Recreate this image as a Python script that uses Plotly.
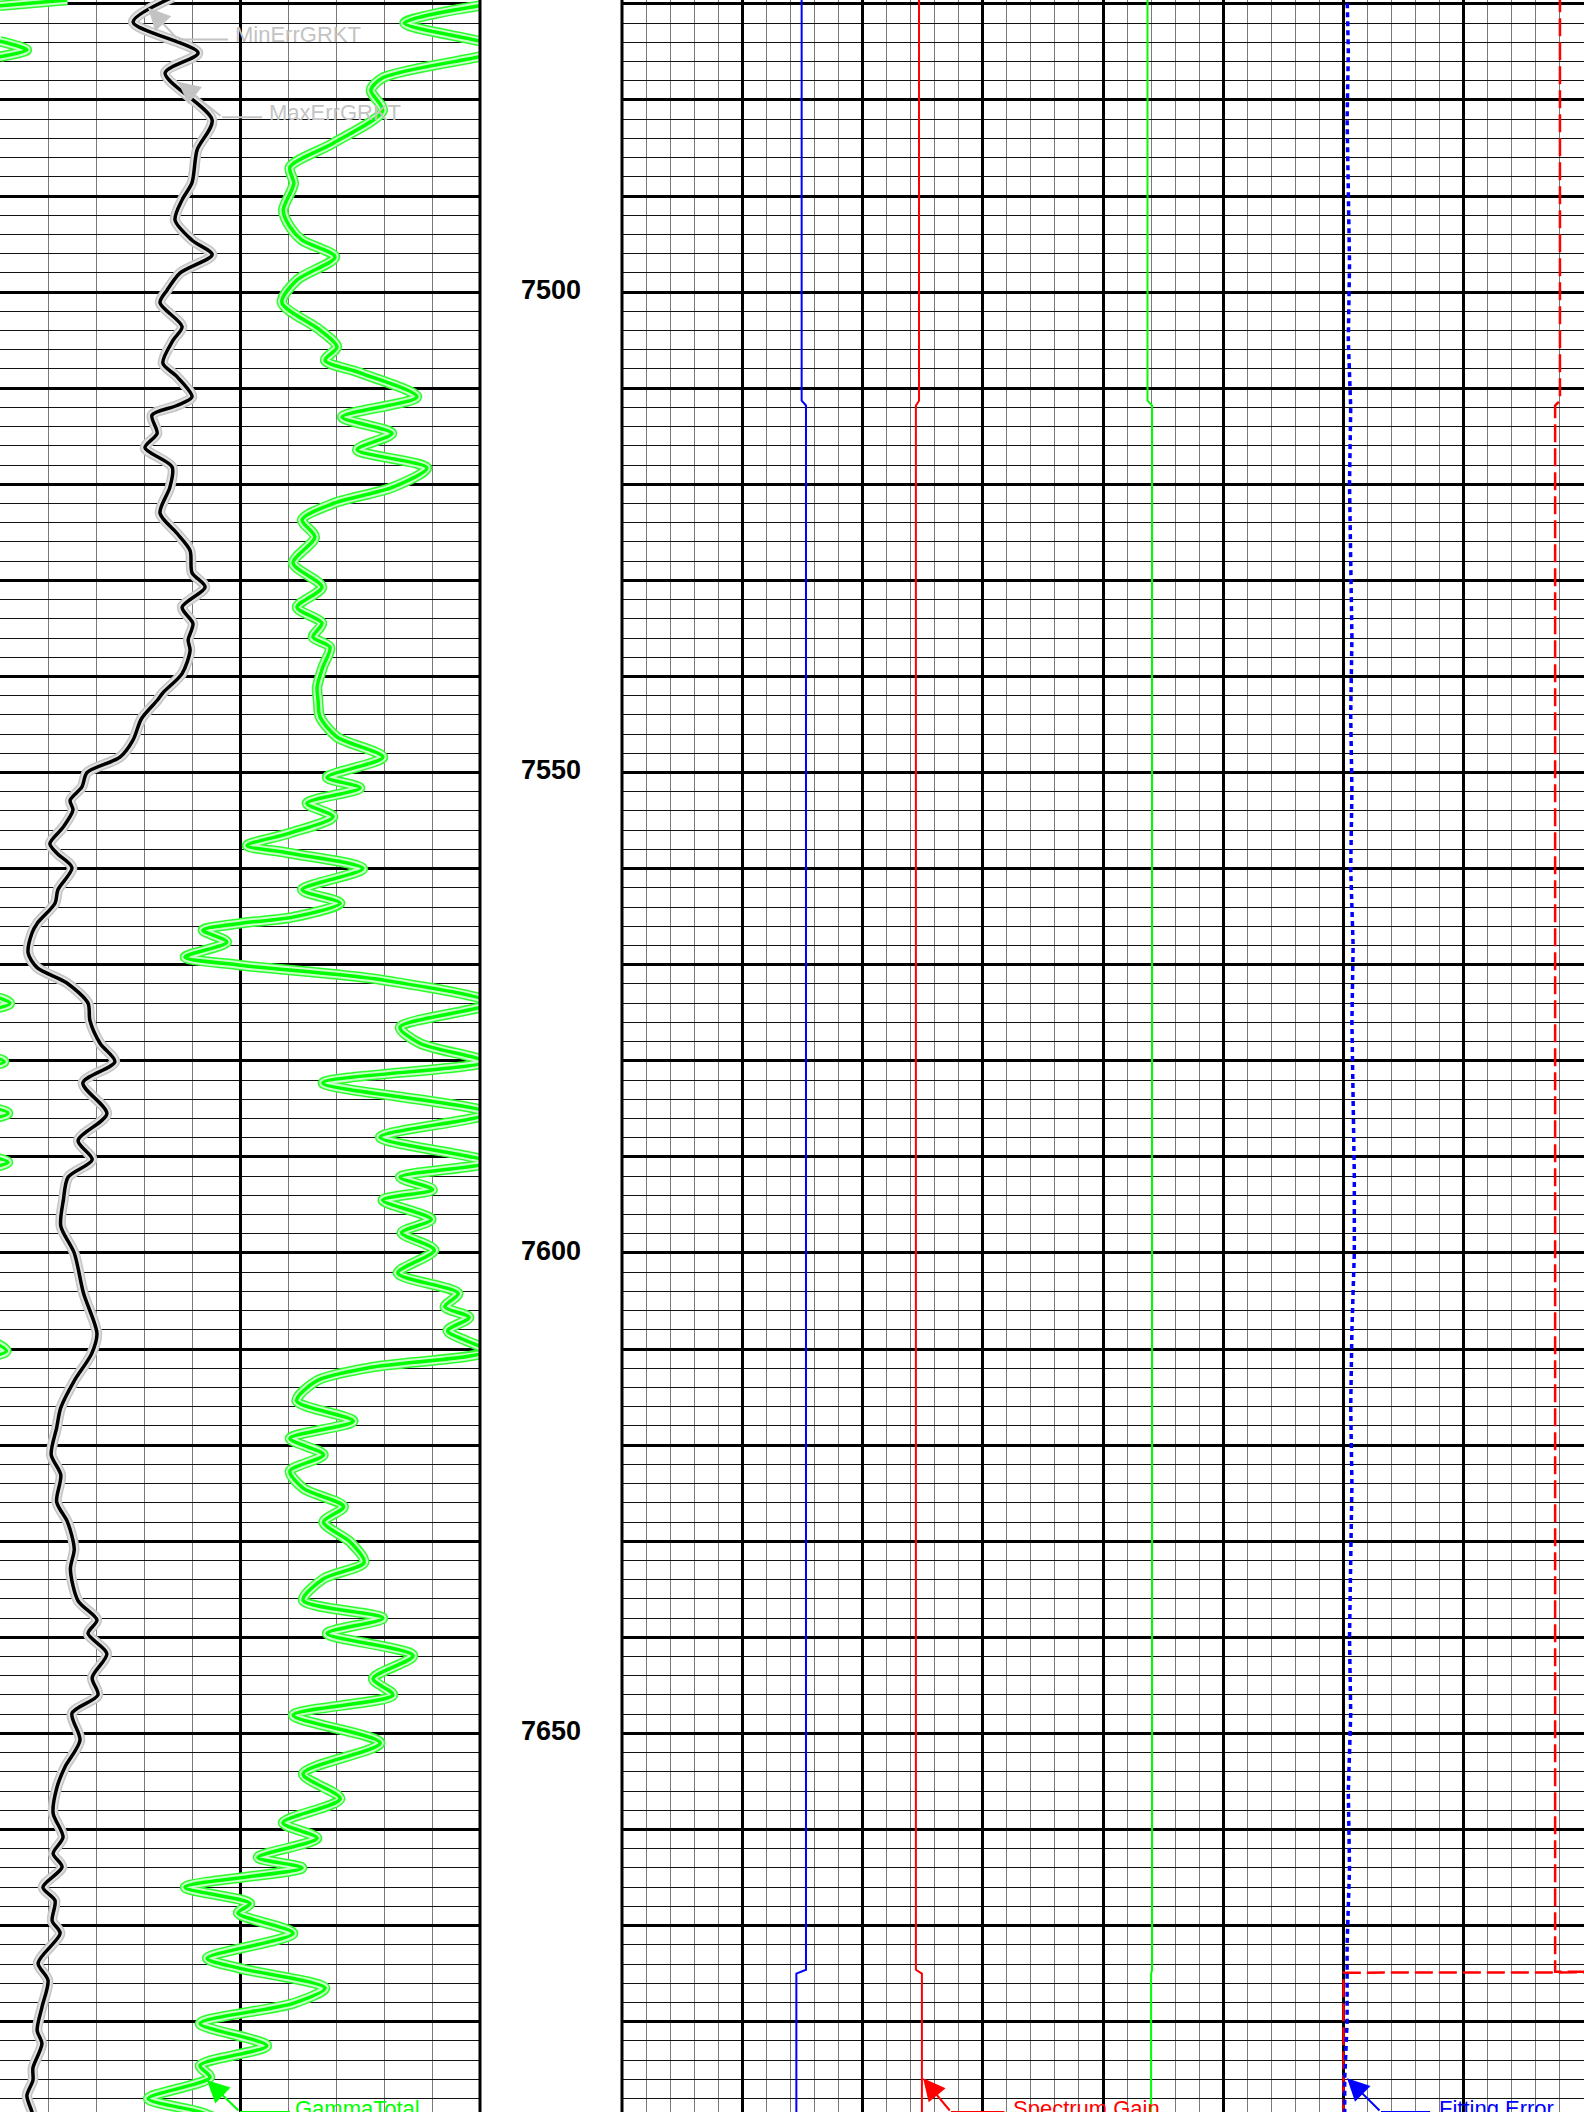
import plotly.graph_objects as go

W, H = 1584, 2112
DEPTH_RANGE = [7689.4, 7469.6]
GR_RANGE = [0, 150]
RT_RANGE = [0, 40]
FONT = "Liberation Sans, Arial, sans-serif"

# ---------------- left track: GRKT (black) ----------------
grkt_depth = [7469.3, 7471.9, 7475.1, 7477.2, 7482.1, 7485.2, 7488.6, 7490.4, 7492.5, 7494.6,
              7496.1, 7498.0, 7499.8, 7501.1, 7503.6, 7505.0, 7507.4, 7508.8, 7510.9, 7511.8,
              7512.8, 7514.7, 7516.2, 7518.2, 7520.3, 7523.0, 7525.1, 7526.9, 7529.2, 7530.7,
              7532.8, 7534.5, 7536.2, 7537.3, 7539.7, 7541.7, 7542.5, 7544.4, 7546.6, 7548.4,
              7550.0, 7551.5, 7552.9, 7553.9, 7555.7, 7557.4, 7558.4, 7559.9, 7562.2, 7563.6,
              7565.7, 7566.7, 7568.8, 7570.3, 7571.9, 7574.0, 7575.8, 7578.2, 7580.1, 7582.3,
              7585.5, 7588.3, 7590.3, 7592.1, 7594.5, 7597.2, 7600.0, 7604.2, 7608.4, 7610.5,
              7613.3, 7616.1, 7618.2, 7621.0, 7623.1, 7625.9, 7628.0, 7630.8, 7632.9, 7636.2,
              7638.2, 7639.6, 7641.7, 7644.2, 7646.0, 7647.9, 7650.7, 7653.5, 7655.6, 7658.3,
              7660.8, 7662.5, 7663.9, 7666.0, 7667.4, 7669.5, 7670.8, 7673.9, 7675.7, 7678.5,
              7680.9, 7682.3, 7684.8, 7686.1, 7687.7, 7689.4, 7690.2]
grkt_value = [54.0, 41.6, 61.9, 51.6, 66.3, 61.6, 60.0, 56.9, 54.7, 60.0,
              66.3, 56.3, 52.2, 50.0, 56.9, 54.1, 50.9, 55.3, 60.0, 55.3,
              47.5, 49.1, 45.3, 53.8, 53.1, 50.0, 55.3, 59.4, 60.0, 64.1,
              56.9, 60.3, 58.8, 59.4, 56.9, 50.9, 49.1, 44.2, 41.6, 37.5,
              27.2, 25.6, 21.9, 22.8, 19.7, 15.6, 17.8, 22.5, 18.1, 17.2,
              11.6, 10.0, 8.8, 11.6, 20.9, 27.5, 28.1, 31.3, 35.9, 25.9,
              33.4, 24.4, 28.8, 21.3, 19.8, 19.0, 23.2, 26.1, 30.3, 28.6,
              23.2, 19.0, 17.7, 16.0, 19.0, 17.7, 21.1, 23.2, 22.0, 24.4,
              30.3, 27.5, 33.4, 28.8, 30.6, 22.5, 25.0, 20.3, 17.8, 16.6,
              19.7, 16.6, 19.4, 13.4, 17.2, 16.3, 18.8, 11.9, 15.0, 13.1,
              11.6, 13.1, 10.3, 10.3, 8.4, 10.0, 10.5]

# ---------------- left track: GammaTotal (green) ----------------
gamma_depth = [7469.6, 7470.2, 7472.0, 7473.9, 7474.8, 7475.5, 7477.7, 7479.0, 7481.1, 7484.5,
               7487.0, 7488.7, 7491.5, 7493.2, 7494.6, 7496.35, 7498.75, 7501.1, 7503.95, 7505.7,
               7507.1, 7508.4, 7510.9, 7513.0, 7514.7, 7516.4, 7518.3, 7520.3, 7522.0, 7523.7,
               7525.5, 7528.2, 7530.7, 7532.8, 7534.45, 7535.9, 7536.95, 7539.0, 7541.1, 7542.5,
               7544.2, 7546.3, 7548.4, 7550.5, 7551.6, 7553.2, 7554.6, 7556.3, 7557.6, 7558.4,
               7560.0, 7562.2, 7563.6, 7565.05, 7565.7, 7566.4, 7567.65, 7569.2, 7570.05, 7571.6,
               7574.0, 7576.5, 7578.2, 7580.1, 7582.3, 7585.45, 7587.95, 7590.55, 7592.1, 7593.4,
               7594.5, 7596.5, 7597.9, 7599.7, 7602.1, 7604.2, 7605.6, 7606.7, 7608.1, 7610.2,
               7611.9, 7613.3, 7615.4, 7617.5, 7619.3, 7621.0, 7622.7, 7624.5, 7626.4, 7628.0,
               7630.1, 7632.2, 7633.9, 7636.15, 7638.0, 7639.6, 7641.9, 7644.3, 7646.0, 7648.1,
               7651.0, 7654.2, 7656.8, 7659.3, 7660.9, 7662.9, 7664.0, 7666.0, 7667.7, 7668.7,
               7670.8, 7673.4, 7674.45, 7676.5, 7678.1, 7680.2, 7682.5, 7684.55, 7685.8, 7688.0,
               7689.4, 7690.4]
gamma_value = [171.0, 150.0, 126.4, 150.0, 158.4, 150.0, 119.6, 115.9, 119.6, 104.1,
               90.6, 91.8, 88.5, 90.6, 94.4, 104.7, 92.8, 88.1, 100.0, 105.3,
               101.6, 112.5, 130.3, 106.9, 122.5, 111.6, 133.4, 122.8, 104.1, 94.4,
               98.4, 91.6, 100.6, 92.8, 100.6, 97.8, 103.1, 100.9, 99.1, 99.4,
               100.0, 105.3, 119.7, 102.2, 112.5, 95.9, 104.1, 90.6, 77.2, 90.6,
               113.4, 94.4, 106.3, 91.6, 75.0, 63.4, 70.9, 57.8, 75.0, 119.7,
               153.1, 125.0, 131.3, 151.3, 100.9, 152.5, 118.8, 152.5, 125.0, 135.2,
               119.6, 134.8, 125.5, 135.7, 124.3, 143.2, 139.0, 146.6, 139.9, 152.0,
               115.9, 99.0, 92.7, 110.4, 90.6, 101.1, 90.6, 94.8, 107.4, 101.1,
               109.5, 113.8, 101.1, 94.7, 119.7, 102.2, 129.1, 116.6, 122.8, 91.6,
               118.8, 94.7, 106.3, 88.4, 99.1, 80.6, 94.4, 57.8, 78.1, 74.4,
               91.6, 64.7, 75.0, 101.6, 91.6, 62.5, 83.4, 62.5, 65.6, 46.3,
               62.5, 70.0]

# ---------------- right track ----------------
step_depth = [7469.0, 7511.3, 7511.8, 7674.6, 7675.0, 7690.0]
blue_value = [7.47, 7.47, 7.65, 7.65, 7.25, 7.25]
gain_value = [12.35, 12.35, 12.22, 12.22, 12.47, 12.47]
green_value = [21.85, 21.85, 22.04, 22.04, 22.0, 22.0]

red_dash_depth = [7469.0, 7511.3, 7511.8, 7674.8, 7674.85, 7674.9, 7690.0]
red_dash_value = [39.0, 39.0, 38.8, 38.8, 45.0, 30.0, 30.0]

fe_depth = [7469.0, 7475, 7482, 7490, 7497, 7505, 7512, 7520, 7528, 7536,
            7544, 7552, 7560, 7568, 7576, 7584, 7592, 7600, 7608, 7616,
            7624, 7632, 7640, 7648, 7656, 7664, 7672, 7680, 7686, 7690]
fe_value = [30.15, 30.2, 30.15, 30.2, 30.25, 30.2, 30.3, 30.25, 30.3, 30.35,
            30.3, 30.35, 30.3, 30.4, 30.35, 30.4, 30.45, 30.45, 30.35, 30.3,
            30.35, 30.3, 30.25, 30.3, 30.2, 30.25, 30.15, 30.15, 30.05, 30.05]

depth_labels = [7500, 7550, 7600, 7650]

L_END = 480 / W
R_START = 622 / W

fig = go.Figure()


def wrapped(vals, hi, span):
    n = len(vals)
    out = []
    for i, v in enumerate(vals):
        near = v > hi or (i > 0 and vals[i - 1] > hi) or (i < n - 1 and vals[i + 1] > hi)
        out.append(v - span if near else None)
    return out


def add_halo(x, y, name, outer, inner, core, xa="x", ya="y"):
    fig.add_trace(go.Scatter(x=x, y=y, mode="lines", name=name + " max", xaxis=xa, yaxis=ya,
                             line=dict(color=outer, width=10.5, shape="spline", smoothing=0.8),
                             hoverinfo="skip", connectgaps=False))
    fig.add_trace(go.Scatter(x=x, y=y, mode="lines", name=name + " min", xaxis=xa, yaxis=ya,
                             line=dict(color=inner, width=7.5, shape="spline", smoothing=0.8),
                             hoverinfo="skip", connectgaps=False))
    fig.add_trace(go.Scatter(x=x, y=y, mode="lines", name=name, xaxis=xa, yaxis=ya,
                             line=dict(color=core, width=3.5, shape="spline", smoothing=0.8),
                             connectgaps=False))


gamma_wrap = wrapped(gamma_value, GR_RANGE[1], GR_RANGE[1] - GR_RANGE[0])
add_halo(gamma_value, gamma_depth, "GammaTotal", "#2bff2b", "#c8ffc8", "#00ff00")
add_halo(gamma_wrap, gamma_depth, "GammaTotal wrap", "#2bff2b", "#c8ffc8", "#00ff00")
add_halo(grkt_value, grkt_depth, "GRKT", "#c4c4c4", "#e2e2e2", "#000000")

# right track curves
fig.add_trace(go.Scatter(x=blue_value, y=step_depth, mode="lines", xaxis="x3", yaxis="y3",
                         line=dict(color="#0000ff", width=2)))
fig.add_trace(go.Scatter(x=gain_value, y=step_depth, mode="lines", xaxis="x3", yaxis="y3",
                         name="Spectrum Gain", line=dict(color="#ff0000", width=2)))
fig.add_trace(go.Scatter(x=green_value, y=step_depth, mode="lines", xaxis="x3", yaxis="y3",
                         line=dict(color="#00ff00", width=2)))
fig.add_trace(go.Scatter(x=red_dash_value, y=red_dash_depth, mode="lines", xaxis="x3", yaxis="y3",
                         line=dict(color="#ff0000", width=2.5, dash="18px,6px")))
fig.add_trace(go.Scatter(x=fe_value, y=fe_depth, mode="lines", xaxis="x3", yaxis="y3",
                         name="Fitting Error", line=dict(color="#0000ff", width=3.5, dash="5px,4px")))

# depth labels
fig.add_trace(go.Scatter(x=[0.5] * len(depth_labels), y=depth_labels, mode="text",
                         text=[str(d) for d in depth_labels], xaxis="x2", yaxis="y2",
                         textposition="middle center",
                         textfont=dict(family=FONT, size=27, color="black", weight="bold")))

yax = dict(range=DEPTH_RANGE, domain=[0, 1], showgrid=True, dtick=10, tick0=0,
           gridcolor="black", gridwidth=2.6,
           minor=dict(dtick=2, tick0=0, showgrid=True, gridcolor="#111111", gridwidth=1.3),
           showticklabels=False, ticks="", zeroline=False, showline=False)

fig.update_layout(
    width=W, height=H, margin=dict(l=0, r=0, t=0, b=0),
    paper_bgcolor="white", plot_bgcolor="white", showlegend=False,
    xaxis=dict(domain=[0, L_END], range=GR_RANGE, anchor="y", dtick=75, tick0=0,
               gridcolor="black", gridwidth=2.6, showticklabels=False, ticks="", zeroline=False,
               minor=dict(dtick=15, tick0=0, showgrid=True, gridcolor="#7a7a7a", gridwidth=1.3)),
    xaxis2=dict(domain=[L_END, R_START], range=[0, 1], anchor="y2", visible=False),
    xaxis3=dict(domain=[R_START, 1], range=RT_RANGE, anchor="y3", dtick=5, tick0=0,
                gridcolor="black", gridwidth=2.6, showticklabels=False, ticks="", zeroline=False,
                minor=dict(dtick=1, tick0=0, showgrid=True, gridcolor="#7a7a7a", gridwidth=1.3)),
    yaxis=dict(**yax, anchor="x"),
    yaxis2=dict(range=DEPTH_RANGE, domain=[0, 1], anchor="x2", matches="y", visible=False),
    yaxis3=dict(**yax, anchor="x3", matches="y"),
)

shapes = [
    dict(type="line", xref="paper", yref="paper", x0=L_END, x1=L_END, y0=0, y1=1,
         line=dict(color="black", width=3), layer="above"),
    dict(type="line", xref="paper", yref="paper", x0=R_START, x1=R_START, y0=0, y1=1,
         line=dict(color="black", width=3), layer="above"),
]

# annotation callouts: (label, color, xref, yref, head, tail, leader_end, text_pos)
callouts = [
    ("MinErrGRKT", "#c3c3c3", "x", "y", (46.3, 7470.4), (55.6, 7473.7), 71.3, (72.8, 7473.2)),
    ("MaxErrGRKT", "#c3c3c3", "x", "y", (55.6, 7478.1), (69.4, 7481.8), 81.9, (83.4, 7481.3)),
    ("GammaTotal", "#00ff00", "x", "y", (64.7, 7686.1), (75.0, 7689.4), 90.6, (91.6, 7689.0)),
    ("Spectrum Gain", "#ff0000", "x3", "y3", (12.52, 7685.9), (13.68, 7689.4), 15.9, (16.17, 7689.0)),
    ("Fitting Error", "#0000ff", "x3", "y3", (30.15, 7685.9), (31.56, 7689.4), 33.6, (33.9, 7689.0)),
]
annotations = []
for label, color, xr, yr, head, tail, lead_end, tpos in callouts:
    annotations.append(dict(x=head[0], y=head[1], xref=xr, yref=yr, ax=tail[0], ay=tail[1],
                            axref=xr, ayref=yr, text="", showarrow=True, arrowhead=2,
                            arrowsize=2.2, arrowwidth=2, arrowcolor=color, standoff=0,
                            startstandoff=0))
    shapes.append(dict(type="line", xref=xr, yref=yr, x0=tail[0], x1=lead_end, y0=tail[1], y1=tail[1],
                       line=dict(color=color, width=2), layer="above"))
    annotations.append(dict(x=tpos[0], y=tpos[1], xref=xr, yref=yr, text=label, showarrow=False,
                            xanchor="left", yanchor="middle",
                            font=dict(family=FONT, size=22, color=color)))

fig.update_layout(shapes=shapes, annotations=annotations)

fig.write_html("out.html",
               config={"displayModeBar": False},
               post_script="document.body.style.margin='0';document.body.style.padding='0';document.body.style.overflow='hidden';")
